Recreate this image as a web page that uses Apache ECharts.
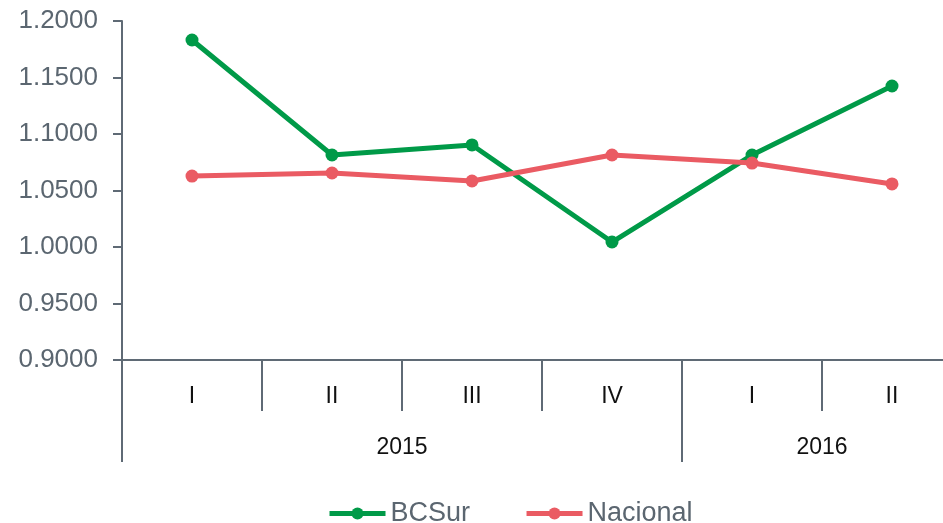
<!DOCTYPE html>
<html>
<head>
<meta charset="utf-8">
<script src="https://cdn.jsdelivr.net/npm/echarts@6/dist/echarts.min.js"></script>
<style>html,body{margin:0;padding:0;background:#fff}#c{width:943px;height:523px}</style>
</head>
<body>
<div id="c"></div>
<script>
var quarters = ['I', 'II', 'III', 'IV', 'I', 'II'];
var years = ['2015', '2016'];
var quartersPerYear = [4, 2];
var bcsur = [1.1832, 1.0814, 1.0903, 1.0044, 1.0814, 1.1425];
var nacional = [1.0628, 1.0655, 1.0584, 1.0814, 1.0743, 1.0558];
var yTicks = { min: 0.9, max: 1.2, interval: 0.05 };

// half-band slots for the year axis (2 per quarter, boundaryGap false)
var nSlots = quarters.length * 2 + 1;
var yearSlots = [];
for (var i = 0; i < nSlots; i++) yearSlots.push('');
var yearTickIdx = {};
var start = 0;
for (var k = 0; k < years.length; k++) {
  yearTickIdx[start * 2] = true;
  yearSlots[start * 2 + quartersPerYear[k]] = years[k];
  start += quartersPerYear[k];
}
yearTickIdx[start * 2] = true;

var axisGray = '#5f6a75';
var chart = echarts.init(document.getElementById('c'));
chart.setOption({
  animation: false,
  grid: { left: 122, top: 21, width: 840, height: 339, containLabel: false, outerBoundsMode: 'none' },
  legend: {
    left: 322, top: 495,
    itemWidth: 56, itemHeight: 15, itemGap: 54,
    lineStyle: { width: 5 },
    textStyle: { fontFamily: 'Liberation Sans', fontSize: 27, color: '#5b6670' },
    data: ['BCSur', 'Nacional']
  },
  xAxis: [{
    type: 'category',
    data: quarters,
    position: 'bottom',
    axisLine: { lineStyle: { color: axisGray, width: 2 } },
    axisTick: { show: true, length: 51, interval: 0, lineStyle: { color: axisGray, width: 2 } },
    axisLabel: { interval: 0, margin: 25, fontFamily: 'Liberation Sans', fontSize: 23, color: '#111' },
    splitLine: { show: false }
  }, {
    type: 'category',
    data: yearSlots,
    position: 'bottom',
    boundaryGap: false,
    axisLine: { show: false },
    axisTick: { show: true, length: 102, interval: function (idx) { return !!yearTickIdx[idx]; }, lineStyle: { color: axisGray, width: 2 } },
    axisLabel: { interval: function (idx, v) { return v !== ''; }, margin: 76, fontFamily: 'Liberation Sans', fontSize: 23, color: '#111' },
    splitLine: { show: false }
  }],
  yAxis: {
    type: 'value',
    min: yTicks.min, max: yTicks.max, interval: yTicks.interval,
    axisLine: { show: true, lineStyle: { color: axisGray, width: 2 } },
    axisTick: { show: true, length: 9, lineStyle: { color: axisGray, width: 2 } },
    axisLabel: { margin: 24, fontFamily: 'Liberation Sans', fontSize: 26, color: '#5b6670',
      formatter: function (v) { return v.toFixed(4); } },
    splitLine: { show: false }
  },
  series: [{
    name: 'BCSur', type: 'line', data: bcsur, xAxisIndex: 0,
    symbol: 'circle', symbolSize: 13,
    lineStyle: { color: '#009a48', width: 5 },
    itemStyle: { color: '#009a48' }
  }, {
    name: 'Nacional', type: 'line', data: nacional, xAxisIndex: 0,
    symbol: 'circle', symbolSize: 13,
    lineStyle: { color: '#ea5b63', width: 5 },
    itemStyle: { color: '#ea5b63' }
  }]
});
</script>
</body>
</html>
